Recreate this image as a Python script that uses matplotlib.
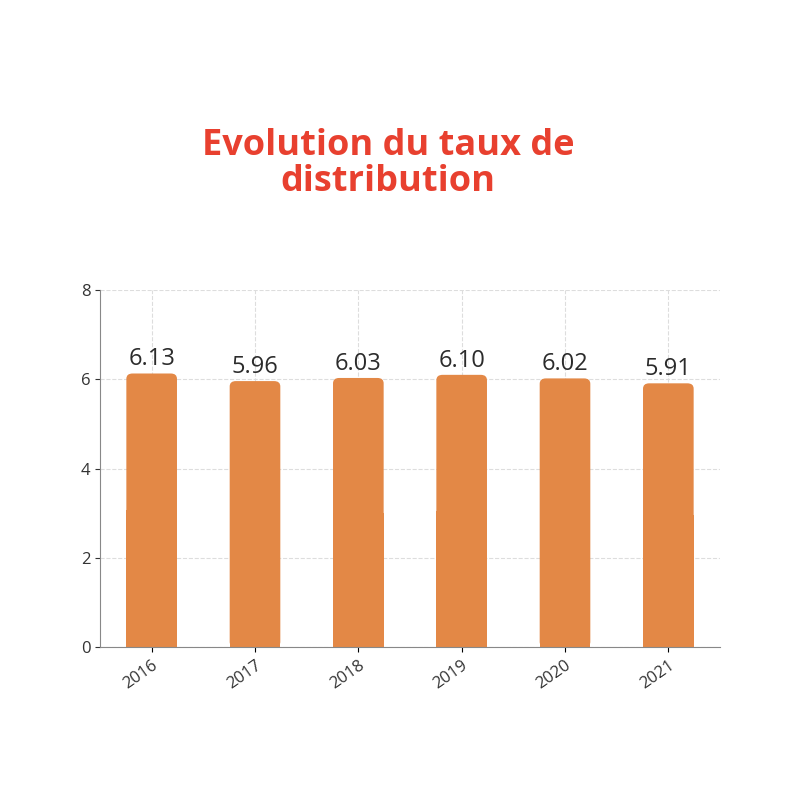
import matplotlib
matplotlib.use("Agg")
import matplotlib.pyplot as plt
from matplotlib.patches import FancyBboxPatch

years = ["2016", "2017", "2018", "2019", "2020", "2021"]
values = [6.13, 5.96, 6.03, 6.10, 6.02, 5.91]
labels = ["6.13", "5.96", "6.03", "6.10", "6.02", "5.91"]

plt.rcParams['font.family'] = ['Open Sans', 'DejaVu Sans']
fig = plt.figure(figsize=(8, 8), dpi=100)
ax = fig.add_axes([0.125, 0.191, 0.775, 0.4465])
x = list(range(len(years)))
bars = ax.bar(x, values, width=0.49, color="#E38846", zorder=2)
for b in bars:
    b.set_visible(False)
    bb = FancyBboxPatch((b.get_x(), 0), b.get_width(), b.get_height(),
                        boxstyle="round,pad=0,rounding_size=0.06",
                        mutation_aspect=1 / 0.06 * 0.12,
                        fc="#E38846", ec="none", zorder=2)
    ax.add_patch(bb)
    ax.add_patch(FancyBboxPatch((b.get_x(), 0), b.get_width(), b.get_height() / 2,
                                boxstyle="square,pad=0", fc="#E38846", ec="none", zorder=2))
for xi, v, l in zip(x, values, labels):
    ax.text(xi, v + 0.05, l, ha="center", va="bottom", fontsize=17, color="#2b2b2b")
ax.set_xlim(-0.5, 5.5)
ax.set_ylim(0, 8)
ax.set_yticks([0, 2, 4, 6, 8])
ax.set_xticks(x)
ax.set_xticklabels(years, rotation=35, ha="right", rotation_mode="anchor", fontsize=12, color="#333333")
ax.tick_params(axis="y", labelsize=12, colors="#333333")
ax.grid(True, color="#dddddd", linestyle="--", linewidth=0.8, zorder=0)
for s in ["top", "right"]:
    ax.spines[s].set_visible(False)
for s in ["left", "bottom"]:
    ax.spines[s].set_color("#888888")
fig.text(0.485, 0.795, "Evolution du taux de\ndistribution", ha="center", va="center",
         fontsize=26, fontweight="bold", color="#E8402F", linespacing=1.0)
fig.savefig("out.png")
